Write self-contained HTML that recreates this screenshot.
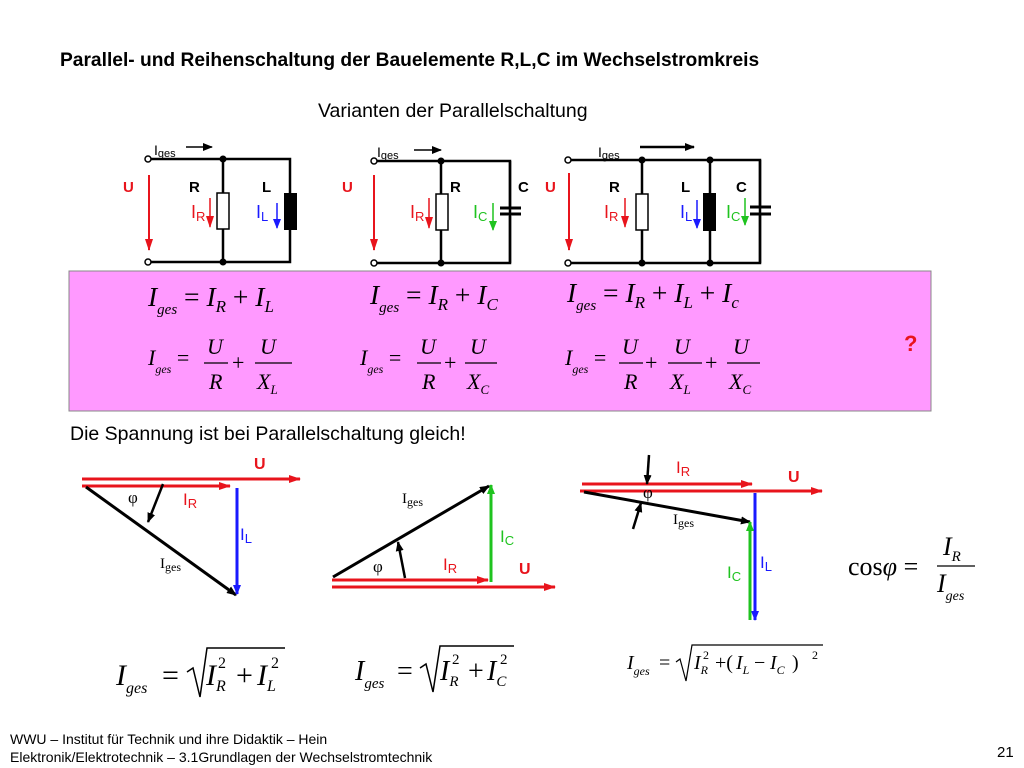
<!DOCTYPE html>
<html><head><meta charset="utf-8"><style>
html,body{margin:0;padding:0;background:#fff;}
svg{display:block}
.s{font-family:"Liberation Sans",sans-serif}
.m{font-family:"Liberation Serif",serif;font-style:italic}
</style></head><body>
<svg width="1024" height="768" viewBox="0 0 1024 768" xmlns="http://www.w3.org/2000/svg">
<defs>
<marker id="ak" markerWidth="10" markerHeight="8" refX="9" refY="4" orient="auto" markerUnits="userSpaceOnUse"><path d="M0,0 L10,4 L0,8 z" fill="#000"/></marker>
<marker id="ar" markerWidth="12" markerHeight="8" refX="11" refY="4" orient="auto" markerUnits="userSpaceOnUse"><path d="M0,0 L12,4 L0,8 z" fill="#e8141c"/></marker>
<marker id="ab" markerWidth="10" markerHeight="8" refX="9" refY="4" orient="auto" markerUnits="userSpaceOnUse"><path d="M0,0 L10,4 L0,8 z" fill="#1a1aff"/></marker>
<marker id="ag" markerWidth="10" markerHeight="8" refX="9" refY="4" orient="auto" markerUnits="userSpaceOnUse"><path d="M0,0 L10,4 L0,8 z" fill="#1fc31f"/></marker>
</defs>

<text x="60" y="66" class="s" font-size="19.2" font-weight="bold">Parallel- und Reihenschaltung der Bauelemente R,L,C im Wechselstromkreis</text>
<text x="318" y="117" class="s" font-size="19.5">Varianten der Parallelschaltung</text>

<!-- Circuit 1 -->
<g stroke="#000" stroke-width="2.5" fill="none">
<path d="M151,159 H290 V262 H151"/>
<path d="M223,159 V262"/>
</g>
<circle cx="148" cy="159" r="3" fill="#fff" stroke="#000" stroke-width="1.5"/>
<circle cx="148" cy="262" r="3" fill="#fff" stroke="#000" stroke-width="1.5"/>
<circle cx="223" cy="159" r="3.5"/><circle cx="223" cy="262" r="3.5"/>
<rect x="217" y="193" width="12" height="36" fill="#fff" stroke="#000" stroke-width="1.5"/>
<rect x="284" y="193" width="13" height="37" fill="#000"/>
<line x1="149" y1="175" x2="149" y2="250" stroke="#e8141c" stroke-width="2" marker-end="url(#ar)"/>
<line x1="186" y1="147" x2="212" y2="147" stroke="#000" stroke-width="1.5" marker-end="url(#ak)"/>
<text x="154" y="155" class="s" font-size="14">I<tspan font-size="11" dy="2">ges</tspan></text>
<text x="123" y="192" class="s" font-size="15" font-weight="bold" fill="#e8141c">U</text>
<text x="189" y="192" class="s" font-size="15" font-weight="bold">R</text>
<text x="262" y="192" class="s" font-size="15" font-weight="bold">L</text>
<text x="191" y="218" class="s" font-size="18" fill="#e8141c">I<tspan font-size="13" dy="3">R</tspan></text>
<line x1="210" y1="198" x2="210" y2="227" stroke="#e8141c" stroke-width="1.5" marker-end="url(#ar)"/>
<text x="256" y="218" class="s" font-size="18" fill="#1a1aff">I<tspan font-size="13" dy="3">L</tspan></text>
<line x1="277" y1="203" x2="277" y2="228" stroke="#1a1aff" stroke-width="1.5" marker-end="url(#ab)"/>

<!-- Circuit 2 -->
<g stroke="#000" stroke-width="2.5" fill="none">
<path d="M377,161 H510 V263 H377"/>
<path d="M441,161 V263"/>
<path d="M510,161 V207 M510,216 V263"/>
<path d="M500,208 H521 M500,214 H521" stroke-width="3"/>
</g>
<circle cx="374" cy="161" r="3" fill="#fff" stroke="#000" stroke-width="1.5"/>
<circle cx="374" cy="263" r="3" fill="#fff" stroke="#000" stroke-width="1.5"/>
<circle cx="441" cy="161" r="3.5"/><circle cx="441" cy="263" r="3.5"/>
<rect x="436" y="194" width="12" height="36" fill="#fff" stroke="#000" stroke-width="1.5"/>
<line x1="374" y1="175" x2="374" y2="250" stroke="#e8141c" stroke-width="2" marker-end="url(#ar)"/>
<line x1="414" y1="150" x2="441" y2="150" stroke="#000" stroke-width="1.5" marker-end="url(#ak)"/>
<text x="377" y="157" class="s" font-size="14">I<tspan font-size="11" dy="2">ges</tspan></text>
<text x="342" y="192" class="s" font-size="15" font-weight="bold" fill="#e8141c">U</text>
<text x="450" y="192" class="s" font-size="15" font-weight="bold">R</text>
<text x="518" y="192" class="s" font-size="15" font-weight="bold">C</text>
<text x="410" y="218" class="s" font-size="18" fill="#e8141c">I<tspan font-size="13" dy="3">R</tspan></text>
<line x1="429" y1="198" x2="429" y2="228" stroke="#e8141c" stroke-width="1.5" marker-end="url(#ar)"/>
<text x="473" y="218" class="s" font-size="18" fill="#1fc31f">I<tspan font-size="13" dy="3">C</tspan></text>
<line x1="493" y1="203" x2="493" y2="230" stroke="#1fc31f" stroke-width="1.5" marker-end="url(#ag)"/>

<!-- Circuit 3 -->
<g stroke="#000" stroke-width="2.5" fill="none">
<path d="M571,160 H760 V263 H571"/>
<path d="M642,160 V263 M710,160 V263"/>
<path d="M760,160 V206 M760,215 V263"/>
<path d="M750,207 H771 M750,214 H771" stroke-width="3"/>
</g>
<circle cx="568" cy="160" r="3" fill="#fff" stroke="#000" stroke-width="1.5"/>
<circle cx="568" cy="263" r="3" fill="#fff" stroke="#000" stroke-width="1.5"/>
<circle cx="642" cy="160" r="3.5"/><circle cx="642" cy="263" r="3.5"/>
<circle cx="710" cy="160" r="3.5"/><circle cx="710" cy="263" r="3.5"/>
<rect x="636" y="194" width="12" height="36" fill="#fff" stroke="#000" stroke-width="1.5"/>
<rect x="703" y="193" width="13" height="38" fill="#000"/>
<line x1="569" y1="173" x2="569" y2="250" stroke="#e8141c" stroke-width="2" marker-end="url(#ar)"/>
<line x1="640" y1="147" x2="694" y2="147" stroke="#000" stroke-width="2.5" marker-end="url(#ak)"/>
<text x="598" y="157" class="s" font-size="14">I<tspan font-size="11" dy="2">ges</tspan></text>
<text x="545" y="192" class="s" font-size="15" font-weight="bold" fill="#e8141c">U</text>
<text x="609" y="192" class="s" font-size="15" font-weight="bold">R</text>
<text x="681" y="192" class="s" font-size="15" font-weight="bold">L</text>
<text x="736" y="192" class="s" font-size="15" font-weight="bold">C</text>
<text x="604" y="218" class="s" font-size="18" fill="#e8141c">I<tspan font-size="13" dy="3">R</tspan></text>
<line x1="625" y1="198" x2="625" y2="227" stroke="#e8141c" stroke-width="1.5" marker-end="url(#ar)"/>
<text x="680" y="218" class="s" font-size="18" fill="#1a1aff">I<tspan font-size="13" dy="3">L</tspan></text>
<line x1="697" y1="200" x2="697" y2="228" stroke="#1a1aff" stroke-width="1.5" marker-end="url(#ab)"/>
<text x="726" y="218" class="s" font-size="18" fill="#1fc31f">I<tspan font-size="13" dy="3">C</tspan></text>
<line x1="745" y1="198" x2="745" y2="225" stroke="#1fc31f" stroke-width="1.5" marker-end="url(#ag)"/>

<!-- Pink box -->
<rect x="69" y="271" width="862" height="140" fill="#ff99ff" stroke="#888" stroke-width="1"/>
<g class="m" font-size="27.5">
<text x="148" y="306">I<tspan font-size="15" dy="8">ges</tspan><tspan dy="-8" font-style="normal"> = </tspan>I<tspan font-size="17" dy="6">R</tspan><tspan dy="-6" font-style="normal"> + </tspan>I<tspan font-size="17" dy="6">L</tspan></text>
<text x="370" y="304">I<tspan font-size="15" dy="8">ges</tspan><tspan dy="-8" font-style="normal"> = </tspan>I<tspan font-size="17" dy="6">R</tspan><tspan dy="-6" font-style="normal"> + </tspan>I<tspan font-size="17" dy="6">C</tspan></text>
<text x="567" y="302">I<tspan font-size="15" dy="8">ges</tspan><tspan dy="-8" font-style="normal"> = </tspan>I<tspan font-size="17" dy="6">R</tspan><tspan dy="-6" font-style="normal"> + </tspan>I<tspan font-size="17" dy="6">L</tspan><tspan dy="-6" font-style="normal"> + </tspan>I<tspan font-size="17" dy="6">c</tspan></text>
</g>
<g class="m" font-size="22">
<text x="148" y="365">I<tspan font-size="12" dy="8">ges</tspan><tspan dy="-8" font-style="normal"> =</tspan></text>
<text x="207" y="354">U</text><text x="209" y="389">R</text>
<text x="232" y="370" font-style="normal">+</text>
<text x="260" y="354">U</text><text x="257" y="389">X<tspan font-size="13" dy="5">L</tspan></text>
<text x="360" y="365">I<tspan font-size="12" dy="8">ges</tspan><tspan dy="-8" font-style="normal"> =</tspan></text>
<text x="420" y="354">U</text><text x="422" y="389">R</text>
<text x="444" y="370" font-style="normal">+</text>
<text x="470" y="354">U</text><text x="467" y="389">X<tspan font-size="13" dy="5">C</tspan></text>
<text x="565" y="365">I<tspan font-size="12" dy="8">ges</tspan><tspan dy="-8" font-style="normal"> =</tspan></text>
<text x="622" y="354">U</text><text x="624" y="389">R</text>
<text x="645" y="370" font-style="normal">+</text>
<text x="674" y="354">U</text><text x="670" y="389">X<tspan font-size="13" dy="5">L</tspan></text>
<text x="705" y="370" font-style="normal">+</text>
<text x="733" y="354">U</text><text x="729" y="389">X<tspan font-size="13" dy="5">C</tspan></text>
</g>
<g stroke="#000" stroke-width="1.2">
<line x1="204" y1="363" x2="228" y2="363"/><line x1="255" y1="363" x2="292" y2="363"/>
<line x1="417" y1="363" x2="441" y2="363"/><line x1="465" y1="363" x2="497" y2="363"/>
<line x1="619" y1="363" x2="643" y2="363"/><line x1="668" y1="363" x2="702" y2="363"/><line x1="727" y1="363" x2="760" y2="363"/>
</g>
<text x="904" y="351" class="s" font-size="22" font-weight="bold" fill="#e8141c">?</text>

<text x="70" y="440" class="s" font-size="19.5">Die Spannung ist bei Parallelschaltung gleich!</text>

<!-- Phasor 1 -->
<line x1="82" y1="479" x2="300" y2="479" stroke="#e8141c" stroke-width="3" marker-end="url(#ar)"/>
<line x1="82" y1="486" x2="230" y2="486" stroke="#e8141c" stroke-width="3" marker-end="url(#ar)"/>
<line x1="86" y1="487" x2="236" y2="595" stroke="#000" stroke-width="3" marker-end="url(#ak)"/>
<line x1="237" y1="488" x2="237" y2="594" stroke="#1a1aff" stroke-width="3" marker-end="url(#ab)"/>
<line x1="163" y1="484" x2="148" y2="522" stroke="#000" stroke-width="2.5" marker-end="url(#ak)"/>
<text x="254" y="469" class="s" font-size="16" font-weight="bold" fill="#e8141c">U</text>
<text x="128" y="503" font-family="Liberation Serif,serif" font-size="17">φ</text>
<text x="183" y="505" class="s" font-size="17" fill="#e8141c">I<tspan font-size="13" dy="3">R</tspan></text>
<text x="240" y="540" class="s" font-size="17" fill="#1a1aff">I<tspan font-size="13" dy="3">L</tspan></text>
<text x="160" y="568" font-family="Liberation Serif,serif" font-size="15">I<tspan font-size="12" dy="3">ges</tspan></text>

<!-- Phasor 2 -->
<line x1="332" y1="587" x2="555" y2="587" stroke="#e8141c" stroke-width="3" marker-end="url(#ar)"/>
<line x1="332" y1="580" x2="488" y2="580" stroke="#e8141c" stroke-width="3" marker-end="url(#ar)"/>
<line x1="333" y1="577" x2="489" y2="486" stroke="#000" stroke-width="3" marker-end="url(#ak)"/>
<line x1="491" y1="582" x2="491" y2="485" stroke="#1fc31f" stroke-width="3" marker-end="url(#ag)"/>
<line x1="405" y1="578" x2="398" y2="542" stroke="#000" stroke-width="2.5" marker-end="url(#ak)"/>
<text x="402" y="503" font-family="Liberation Serif,serif" font-size="15">I<tspan font-size="12" dy="3">ges</tspan></text>
<text x="373" y="572" font-family="Liberation Serif,serif" font-size="17">φ</text>
<text x="443" y="570" class="s" font-size="17" fill="#e8141c">I<tspan font-size="13" dy="3">R</tspan></text>
<text x="500" y="542" class="s" font-size="17" fill="#1fc31f">I<tspan font-size="13" dy="3">C</tspan></text>
<text x="519" y="574" class="s" font-size="16" font-weight="bold" fill="#e8141c">U</text>

<!-- Phasor 3 -->
<line x1="582" y1="484" x2="752" y2="484" stroke="#e8141c" stroke-width="3" marker-end="url(#ar)"/>
<line x1="580" y1="491" x2="822" y2="491" stroke="#e8141c" stroke-width="3" marker-end="url(#ar)"/>
<line x1="584" y1="492" x2="750" y2="522" stroke="#000" stroke-width="3" marker-end="url(#ak)"/>
<line x1="755" y1="493" x2="755" y2="620" stroke="#1a1aff" stroke-width="3" marker-end="url(#ab)"/>
<line x1="750" y1="620" x2="750" y2="522" stroke="#1fc31f" stroke-width="3" marker-end="url(#ag)"/>
<line x1="649" y1="455" x2="647" y2="484" stroke="#000" stroke-width="2.5" marker-end="url(#ak)"/>
<line x1="633" y1="529" x2="641" y2="503" stroke="#000" stroke-width="2.5" marker-end="url(#ak)"/>
<text x="676" y="473" class="s" font-size="17" fill="#e8141c">I<tspan font-size="13" dy="3">R</tspan></text>
<text x="788" y="482" class="s" font-size="16" font-weight="bold" fill="#e8141c">U</text>
<text x="643" y="498" font-family="Liberation Serif,serif" font-size="17">φ</text>
<text x="673" y="524" font-family="Liberation Serif,serif" font-size="15">I<tspan font-size="12" dy="3">ges</tspan></text>
<text x="727" y="578" class="s" font-size="17" fill="#1fc31f">I<tspan font-size="13" dy="3">C</tspan></text>
<text x="760" y="568" class="s" font-size="17" fill="#1a1aff">I<tspan font-size="13" dy="3">L</tspan></text>

<!-- cos phi -->
<text x="848" y="575" font-family="Liberation Serif,serif" font-size="26">cos<tspan font-style="italic">φ</tspan> =</text>
<line x1="937" y1="566" x2="975" y2="566" stroke="#000" stroke-width="1.3"/>
<text x="943" y="555" class="m" font-size="26">I<tspan font-size="15" dy="6">R</tspan></text>
<text x="937" y="592" class="m" font-size="26">I<tspan font-size="14" dy="8">ges</tspan></text>

<!-- sqrt formulas -->
<g class="m">
<text x="116" y="685" font-size="30">I<tspan font-size="16" dy="8">ges</tspan></text>
<text x="162" y="685" font-size="30" font-style="normal">=</text>
<path d="M187,672 L193,668 L200,697 L207,648 H285" fill="none" stroke="#000" stroke-width="1.5"/>
<text x="206" y="685" font-size="30">I<tspan font-size="16" dy="6">R</tspan></text>
<text x="218" y="668" font-size="16" font-style="normal">2</text>
<text x="236" y="685" font-size="30" font-style="normal">+</text>
<text x="257" y="685" font-size="30">I<tspan font-size="16" dy="6">L</tspan></text>
<text x="271" y="668" font-size="16" font-style="normal">2</text>

<text x="355" y="680" font-size="28">I<tspan font-size="15" dy="8">ges</tspan></text>
<text x="397" y="680" font-size="28" font-style="normal">=</text>
<path d="M420,668 L426,664 L433,692 L440,646 H514" fill="none" stroke="#000" stroke-width="1.5"/>
<text x="440" y="680" font-size="28">I<tspan font-size="15" dy="6">R</tspan></text>
<text x="452" y="664" font-size="15" font-style="normal">2</text>
<text x="468" y="680" font-size="28" font-style="normal">+</text>
<text x="487" y="680" font-size="28">I<tspan font-size="15" dy="6">C</tspan></text>
<text x="500" y="664" font-size="15" font-style="normal">2</text>

<text x="627" y="669" font-size="20">I<tspan font-size="12" dy="6">ges</tspan></text>
<text x="659" y="669" font-size="20" font-style="normal">=</text>
<path d="M676,662 L680,659 L686,681 L692,645 H823" fill="none" stroke="#000" stroke-width="1.2"/>
<text x="694" y="669" font-size="20">I<tspan font-size="12" dy="5">R</tspan></text>
<text x="703" y="659" font-size="12" font-style="normal">2</text>
<text x="715" y="669" font-size="20" font-style="normal">+(</text>
<text x="736" y="669" font-size="20">I<tspan font-size="12" dy="5">L</tspan></text>
<text x="754" y="669" font-size="20" font-style="normal">−</text>
<text x="770" y="669" font-size="20">I<tspan font-size="12" dy="5">C</tspan></text>
<text x="792" y="669" font-size="20" font-style="normal">)</text>
<text x="812" y="659" font-size="12" font-style="normal">2</text>
</g>

<!-- footer -->
<text x="10" y="744" class="s" font-size="14">WWU – Institut für Technik und ihre Didaktik – Hein</text>
<text x="10" y="762" class="s" font-size="14">Elektronik/Elektrotechnik – 3.1Grundlagen der Wechselstromtechnik</text>
<text x="997" y="757" class="s" font-size="15">21</text>
</svg>
</body></html>
